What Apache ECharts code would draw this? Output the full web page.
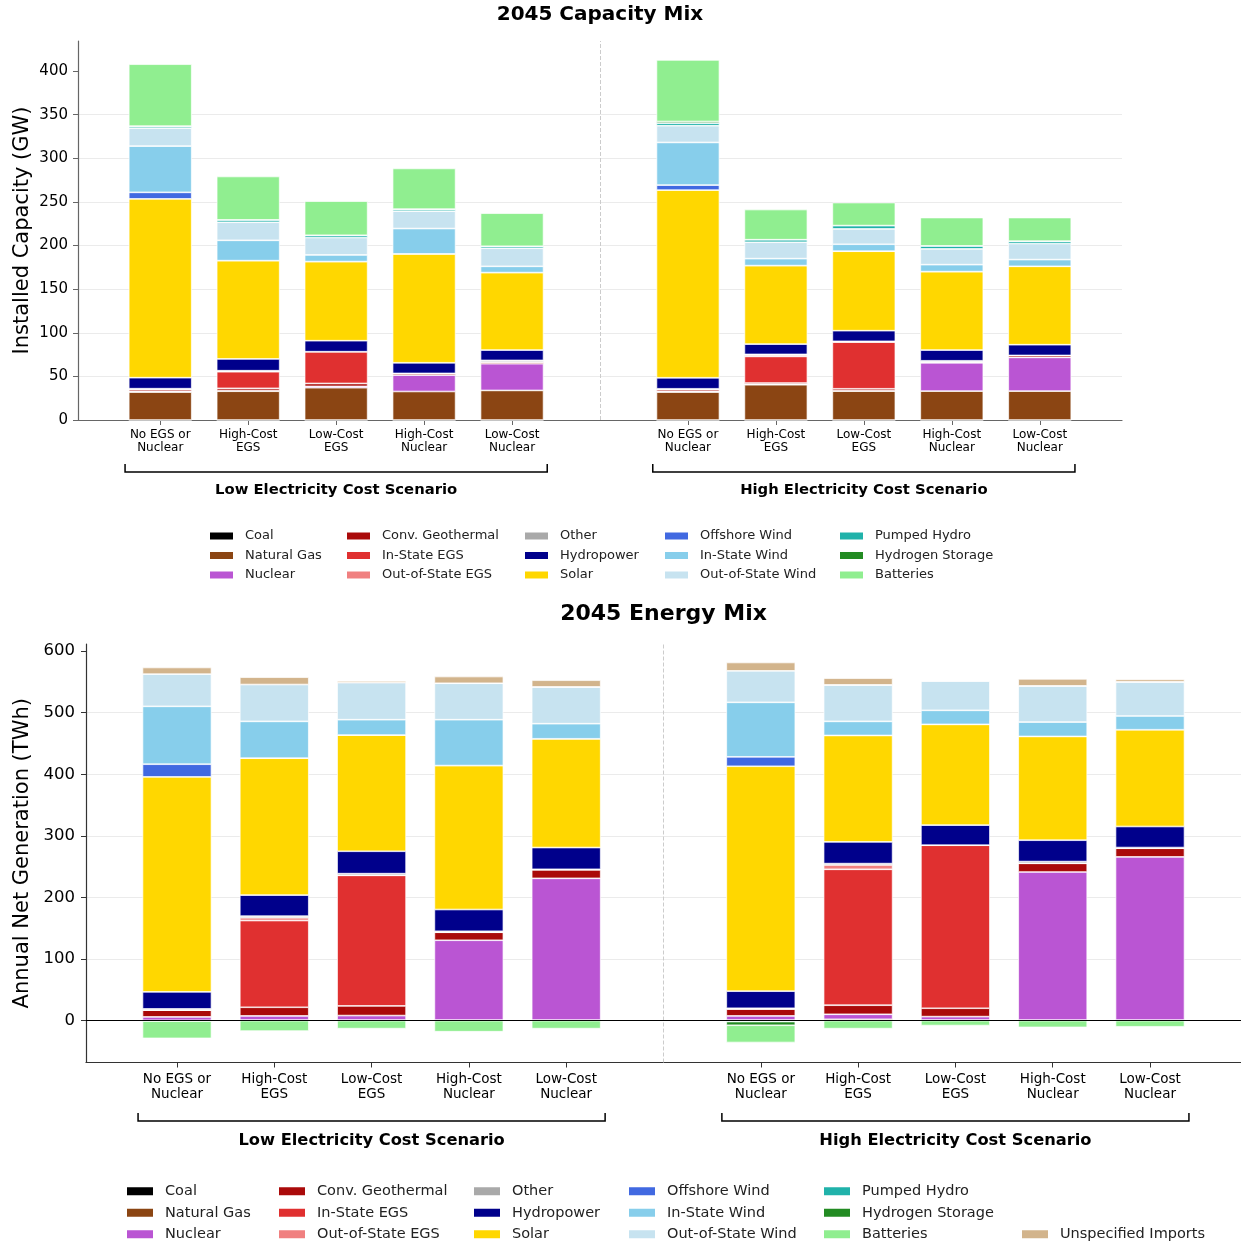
<!DOCTYPE html>
<html>
<head>
<meta charset="utf-8">
<title>2045 Capacity and Energy Mix</title>
<script src="https://cdn.jsdelivr.net/npm/echarts@6/dist/echarts.min.js"></script>
<style>
  html, body { margin: 0; padding: 0; background: #fff; }
  #chart { width: 1241px; height: 1245px; }
</style>
</head>
<body>
<div id="chart"></div>
<script>
const FONT = 'DejaVu Sans';

// Scenario groups and the five resource cases inside each group
const scenarios = ['Low Electricity Cost Scenario', 'High Electricity Cost Scenario'];
const cases = ['No EGS or\nNuclear', 'High-Cost\nEGS', 'Low-Cost\nEGS', 'High-Cost\nNuclear', 'Low-Cost\nNuclear'];

// Resource types in stacking order (bottom to top)
const technologies = ['Coal', 'Natural Gas', 'Nuclear', 'Conv. Geothermal', 'In-State EGS', 'Out-of-State EGS',
  'Other', 'Hydropower', 'Solar', 'Offshore Wind', 'In-State Wind', 'Out-of-State Wind',
  'Pumped Hydro', 'Hydrogen Storage', 'Batteries', 'Unspecified Imports'];
const techColors = ['#000000', '#8B4513', '#BA55D3', '#AA0A0A', '#E03030', '#F08080',
  '#A9A9A9', '#00008B', '#FFD700', '#4169E1', '#87CEEB', '#C7E3F0',
  '#20B2AA', '#228B22', '#90EE90', '#D2B48C'];

// Axis tick labels
const capTicks = [0, 50, 100, 150, 200, 250, 300, 350, 400];
const genTicks = [0, 100, 200, 300, 400, 500, 600];

// Installed capacity in 2045 (GW): five low-cost cases, then five high-cost cases
const capCoal         = [0, 0, 0, 0, 0, 0, 0, 0, 0, 0];
const capNaturalGas   = [32, 33, 37, 32.7, 33.9, 32, 40.4, 33.1, 33.1, 33.1];
const capNuclear      = [1, 0.8, 1.5, 18.8, 30.6, 1, 0.5, 0.7, 32.5, 38.7];
const capConvGeo      = [2.5, 2.5, 3.4, 1.9, 2, 2.4, 1.5, 2, 1, 2.2];
const capInStateEGS   = [0, 19, 36.4, 0, 0, 0, 30.5, 53.6, 0, 0];
const capOutStateEGS  = [0, 0.8, 0, 0, 0, 0, 1.6, 0, 0, 0];
const capOther        = [0.4, 0.4, 0, 0, 1.8, 0.4, 0.7, 0.8, 1.3, 0];
const capHydro        = [12.6, 13.5, 12.6, 12.2, 11.9, 12.6, 11.8, 12.2, 12.3, 12.3];
const capSolar        = [205, 112.7, 90.7, 124.8, 88.8, 215.1, 90, 91.1, 89.9, 89.9];
const capOffshoreWind = [7.5, 0, 0, 0, 0, 5.8, 0, 0, 0, 0];
const capInStateWind  = [53, 23.3, 7.6, 29.1, 7.2, 48.9, 8, 8, 8, 7.7];
const capOutStateWind = [20.6, 20.7, 20, 19.9, 20.7, 19.2, 18.8, 17.5, 18, 18.4];
const capPumpedHydro  = [2.3, 2.7, 2.6, 2.3, 2.3, 2.9, 2.9, 3.9, 3.5, 2.7];
const capHydrogen     = [0, 0, 0, 0, 0, 1.9, 0, 0, 0, 0];
const capBatteries    = [71, 49.8, 39.1, 46.7, 37.9, 70.6, 34.6, 26.4, 32.5, 27.1];

// Annual net generation in 2045 (TWh); storage is a net consumer
const genCoal         = [0, 0, 0, 0, 0, 0, 0, 0, 0, 0];
const genNaturalGas   = [0.5, 1, 1, 1, 1, 1, 2.2, 1, 1, 1];
const genNuclear      = [5.5, 6.6, 7.2, 129.5, 230, 6.6, 8.1, 5.5, 240.3, 264.8];
const genConvGeo      = [11, 14.1, 15.7, 13, 14, 11.4, 14.7, 13.6, 14.1, 14.1];
const genInStateEGS   = [0, 140.8, 212, 0, 0, 0, 220.7, 264.7, 0, 0];
const genOutStateEGS  = [0, 4.5, 0, 0, 0, 0, 7, 0, 0, 0];
const genOther        = [2, 2.6, 2.7, 1.6, 0.7, 1.1, 2.2, 0, 2.8, 1.1];
const genHydro        = [27.7, 34.2, 36.4, 35.3, 35.3, 27.7, 35.3, 32.6, 34.7, 34.2];
const genSolar        = [349, 222.3, 188.6, 233.7, 176.6, 365.2, 172.8, 163.6, 168.5, 157.1];
const genOffshoreWind = [20.6, 0, 0, 0, 0, 15.3, 0, 0, 0, 0];
const genInStateWind  = [94, 59.8, 25, 74.5, 24.5, 88.5, 22.9, 22.8, 23.4, 22.3];
const genOutStateWind = [52.2, 59.8, 60.3, 59.2, 59.7, 51.1, 59.2, 47.8, 58.7, 55.4];
const genPumpedHydro  = [-0.8, 0, 0, 0, 0, -1.5, 0, 0, 0, 0];
const genHydrogen     = [0, 0, 0, 0, 0, -6, 0, 0, 0, 0];
const genBatteries    = [-28, -17, -13, -18, -13, -28, -13, -8, -11, -10];
const genImports      = [10.9, 11.9, 2.7, 10.9, 10.9, 13.6, 10.9, 0.5, 11.4, 4];

const capacityByTech = [capCoal, capNaturalGas, capNuclear, capConvGeo, capInStateEGS, capOutStateEGS,
  capOther, capHydro, capSolar, capOffshoreWind, capInStateWind, capOutStateWind,
  capPumpedHydro, capHydrogen, capBatteries, null];
const generationByTech = [genCoal, genNaturalGas, genNuclear, genConvGeo, genInStateEGS, genOutStateEGS,
  genOther, genHydro, genSolar, genOffshoreWind, genInStateWind, genOutStateWind,
  genPumpedHydro, genHydrogen, genBatteries, genImports];

// Slot index of each bar: the cases of a scenario side by side, one empty slot between scenarios
const slotsPerGroup = cases.length + 1;
const positions = [];
scenarios.forEach((s, g) => cases.forEach((c, k) => positions.push(g * slotsPerGroup + k)));
const dividerAt = cases.length;
const xPad = 0.935;

const chart = echarts.init(document.getElementById('chart'), null, { renderer: 'canvas' });

function xAxisFor(gridIndex, fontSize, lineHeight, margin, lineColor) {
  return {
    type: 'value', gridIndex,
    min: positions[0] - xPad, max: positions[positions.length - 1] + xPad,
    axisLine: { show: true, onZero: false, lineStyle: { color: lineColor, width: 1.2 } },
    axisTick: { show: true, length: 5, customValues: positions, lineStyle: { color: lineColor, width: 1 } },
    axisLabel: {
      customValues: positions,
      formatter: v => cases[Math.round(v) % slotsPerGroup] || '',
      fontFamily: FONT, fontSize, lineHeight, margin, color: '#000'
    },
    splitLine: { show: false }
  };
}

function yAxisFor(gridIndex, min, max, ticks, name, nameGap, fontSize, margin, lineColor) {
  return {
    type: 'value', gridIndex, min, max,
    name, nameLocation: 'middle', nameGap, nameMoveOverlap: false,
    nameTextStyle: { fontFamily: FONT, fontSize: 21, color: '#000' },
    axisLine: { show: true, onZero: false, lineStyle: { color: lineColor, width: 1.2 } },
    axisTick: { show: true, length: 5, customValues: ticks, lineStyle: { color: lineColor, width: 1 } },
    axisLabel: { customValues: ticks, fontFamily: FONT, fontSize, margin, color: '#000' },
    splitLine: { show: true, showMinLine: false, showMaxLine: false, lineStyle: { color: '#ebebeb', width: 1 } }
  };
}

// Each data item is [value, slot]; the value column comes first so that it is the stacked one
function barSeries(name, color, values, stack, axisIndex, width) {
  return {
    name, type: 'bar', stack, xAxisIndex: axisIndex, yAxisIndex: axisIndex,
    barWidth: width,
    encode: { x: 1, y: 0 },
    itemStyle: { color, borderColor: '#fff', borderWidth: 0.7 },
    data: positions.map((x, j) => [values[j], x])
  };
}

const series = [];
technologies.forEach((tech, i) => {
  if (capacityByTech[i]) series.push(barSeries(tech, techColors[i], capacityByTech[i], 'capacity', 0, 63));
});
technologies.forEach((tech, i) => {
  series.push(barSeries(tech, techColors[i], generationByTech[i], 'generation', 1, 69));
});

// Dashed divider between scenario groups, and the zero line of the energy chart
series[0].markLine = {
  silent: true, symbol: ['none', 'none'], label: { show: false },
  lineStyle: { type: 'dashed', color: '#cccccc', width: 1 },
  data: [{ xAxis: dividerAt }]
};
const firstGen = series.find(s => s.stack === 'generation');
firstGen.markLine = {
  silent: true, symbol: ['none', 'none'], label: { show: false },
  data: [
    { xAxis: dividerAt, lineStyle: { type: 'dashed', color: '#cccccc', width: 1 } },
    { yAxis: 0, lineStyle: { type: 'solid', color: '#000', width: 1.2 } }
  ]
};

// Legends laid out in columns of three
function legendColumns(names, lefts, top, rowStep, fontSize, iw, ih) {
  const cols = [];
  for (let c = 0; c * 3 < names.length; c++) {
    cols.push({
      data: names.slice(c * 3, c * 3 + 3),
      orient: 'vertical', left: lefts[c], top, padding: 0,
      icon: 'rect', itemWidth: iw, itemHeight: ih,
      itemGap: rowStep - (fontSize + 2),
      selectedMode: false,
      textStyle: { fontFamily: FONT, fontSize, lineHeight: fontSize + 2, color: '#222', padding: [0, 0, 0, 6] }
    });
  }
  return cols;
}
const capNames = technologies.filter((t, i) => capacityByTech[i]);
const genNames = technologies.slice(0, 15);
const legends = [].concat(
  legendColumns(capNames, [208, 345, 523, 663, 838], 528.5, 19.5, 13, 25, 9),
  legendColumns(genNames, [125, 277, 472, 627, 822], 1183, 21.5, 14.5, 28, 10),
  [{
    data: ['Unspecified Imports'], orient: 'vertical', left: 1020, top: 1226, padding: 0,
    icon: 'rect', itemWidth: 28, itemHeight: 10, selectedMode: false,
    textStyle: { fontFamily: FONT, fontSize: 14.5, lineHeight: 16.5, color: '#222', padding: [0, 0, 0, 6] }
  }]
);

chart.setOption({
  animation: false,
  backgroundColor: '#fff',
  textStyle: { fontFamily: FONT },
  grid: [
    { left: 78, right: 119, top: 41, bottom: 825, containLabel: false, outerBoundsMode: 'none' },
    { left: 86, right: 0, top: 644, bottom: 182.5, containLabel: false, outerBoundsMode: 'none' }
  ],
  xAxis: [
    xAxisFor(0, 12, 13.5, 8, '#666'),
    xAxisFor(1, 13.5, 15, 9, '#333')
  ],
  yAxis: [
    yAxisFor(0, 0, 434.5, capTicks, 'Installed Capacity (GW)', 45, 15, 10, '#666'),
    yAxisFor(1, -68, 611.5, genTicks, 'Annual Net Generation (TWh)', 53, 16.5, 11, '#333')
  ],
  legend: legends,
  series
});

// Titles and scenario brackets, placed from the axes' own scales
function bracketElements(axisIndex, yLine, tickLen, labelY, fontSize) {
  const els = [];
  scenarios.forEach((name, g) => {
    const x0 = chart.convertToPixel({ xAxisIndex: axisIndex }, g * slotsPerGroup - 0.4);
    const x1 = chart.convertToPixel({ xAxisIndex: axisIndex }, g * slotsPerGroup + cases.length - 1 + 0.4);
    els.push({
      type: 'polyline', silent: true,
      shape: { points: [[x0, yLine - tickLen], [x0, yLine], [x1, yLine], [x1, yLine - tickLen]] },
      style: { stroke: '#000', lineWidth: 1.5, fill: null }
    });
    els.push({
      type: 'text', silent: true, x: (x0 + x1) / 2, y: labelY,
      style: { text: name, font: `bold ${fontSize}px "${FONT}"`, fill: '#000', align: 'center', verticalAlign: 'middle' }
    });
  });
  return els;
}
function titleElement(axisIndex, text, y, fontSize) {
  const xa = chart.convertToPixel({ xAxisIndex: axisIndex }, positions[0] - xPad);
  const xb = chart.convertToPixel({ xAxisIndex: axisIndex }, positions[positions.length - 1] + xPad);
  return {
    type: 'text', silent: true, x: (xa + xb) / 2, y,
    style: { text, font: `bold ${fontSize}px "${FONT}"`, fill: '#000', align: 'center', verticalAlign: 'middle' }
  };
}
chart.setOption({
  graphic: [].concat(
    [titleElement(0, '2045 Capacity Mix', 15, 20), titleElement(1, '2045 Energy Mix', 614, 22)],
    bracketElements(0, 472, 8, 490, 14.8),
    bracketElements(1, 1121, 8, 1141, 16.3)
  )
});
</script>
</body>
</html>
